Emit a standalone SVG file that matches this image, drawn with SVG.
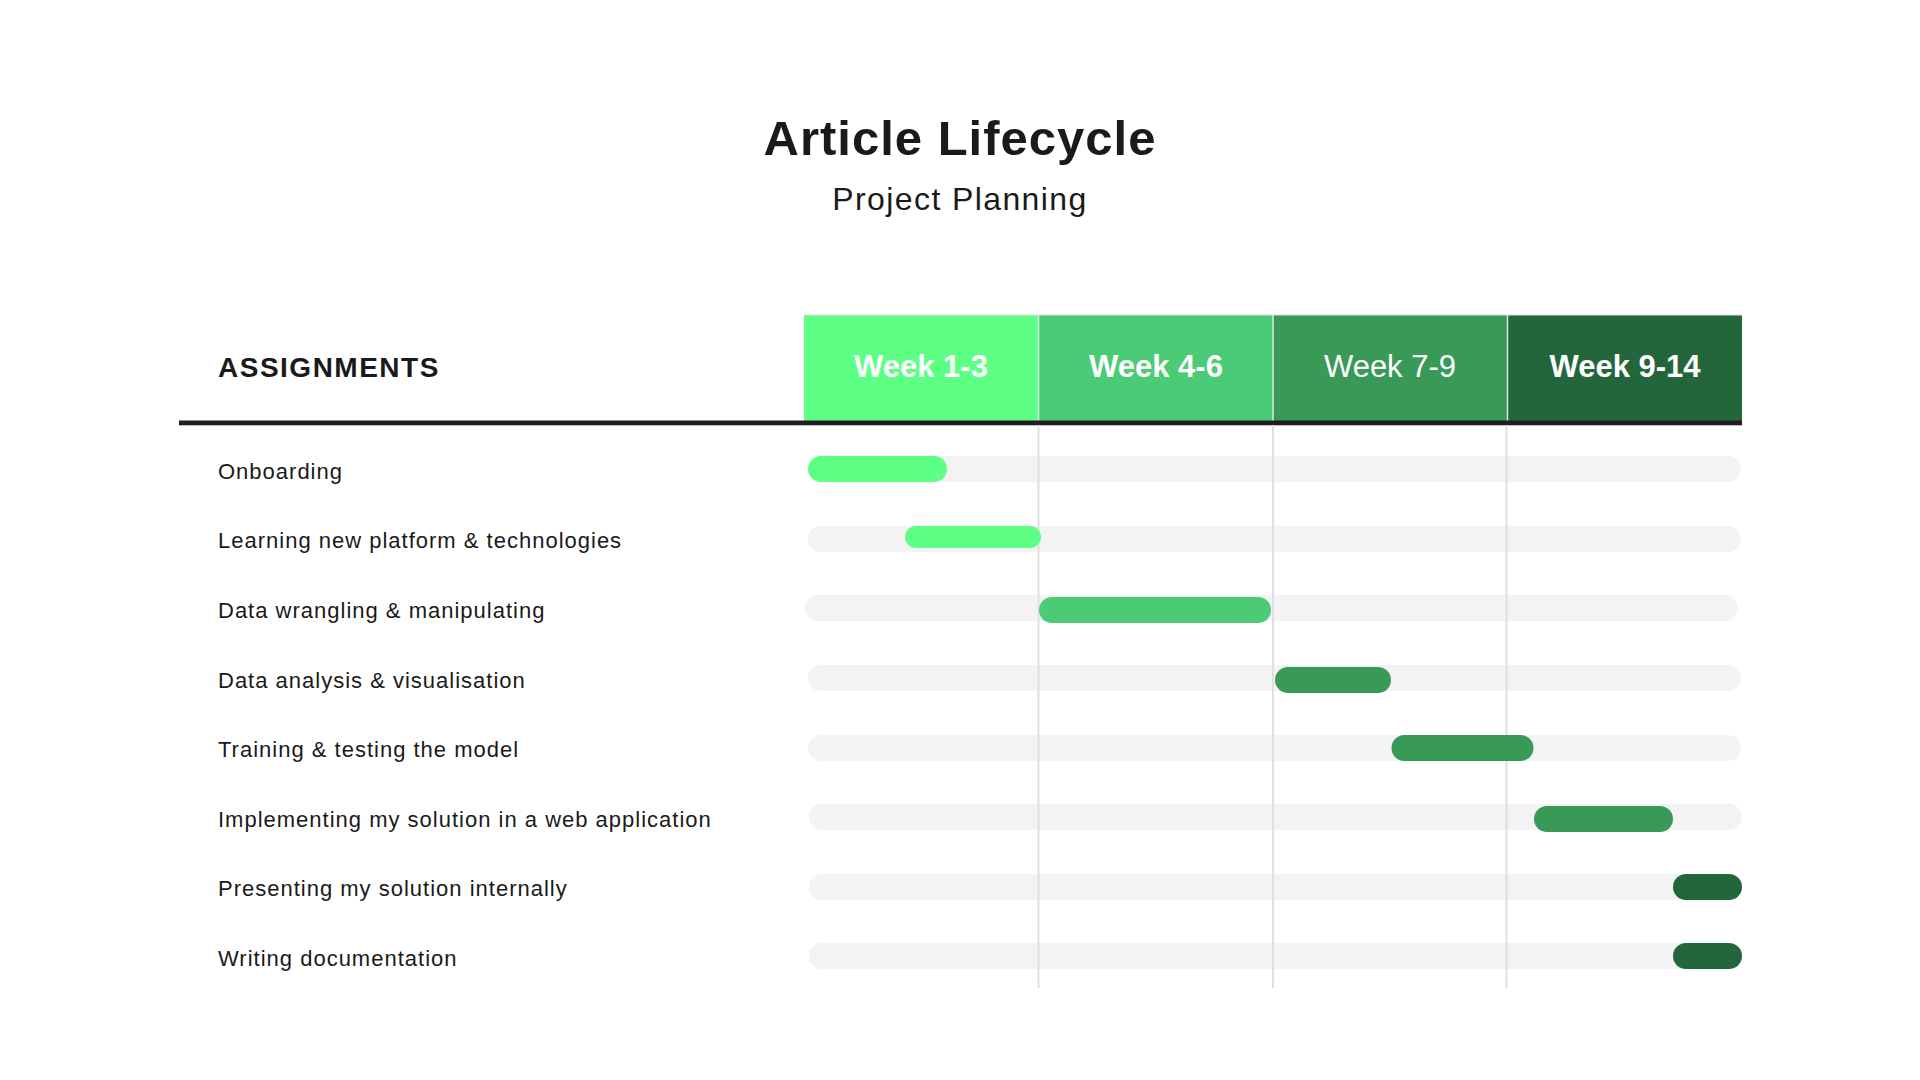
<svg xmlns="http://www.w3.org/2000/svg" width="1920" height="1080" viewBox="0 0 1920 1080">
  <style>
    .title { font-family: "Liberation Sans", Arial, sans-serif; font-weight: 700; font-size: 49px; letter-spacing: 1px; fill: #1a1a1a; }
    .subtitle { font-family: "Liberation Sans", Arial, sans-serif; font-size: 32px; letter-spacing: 1.4px; fill: #1a1a1a; }
    .colhead { font-family: "Liberation Sans", Arial, sans-serif; font-weight: 700; font-size: 28px; letter-spacing: 1.5px; fill: #1a1a1a; }
    .week { font-family: "Liberation Sans", Arial, sans-serif; font-weight: 700; font-size: 31px; fill: #ffffff; text-anchor: middle; }
    .week.light { font-weight: 400; }
    .label { font-family: "Liberation Sans", Arial, sans-serif; font-size: 22px; letter-spacing: 1px; fill: #1a1a1a; }
    .track { fill: #f3f3f3; }
    .grid line { stroke: #e0e0e0; stroke-width: 2; }
    .c1 { fill: #5eff85; }
    .c2 { fill: #4bcb75; }
    .c3 { fill: #399a57; }
    .c4 { fill: #24663b; }
  </style>

  <rect width="1920" height="1080" fill="#ffffff"/>

  <!-- Title block -->
  <g id="title">
    <text class="title" x="960" y="155" text-anchor="middle">Article Lifecycle</text>
    <text class="subtitle" x="960" y="210" text-anchor="middle">Project Planning</text>
  </g>

  <!-- Table header -->
  <g id="header">
    <text class="colhead" x="218" y="377">ASSIGNMENTS</text>
    <g id="week-1-3">
      <rect class="c1" x="804" y="315" width="234.5" height="106"/>
      <text class="week" x="921" y="377">Week 1-3</text>
    </g>
    <g id="week-4-6">
      <rect class="c2" x="1038.5" y="315" width="234.5" height="106"/>
      <text class="week" x="1156" y="377">Week 4-6</text>
    </g>
    <g id="week-7-9">
      <rect class="c3" x="1273" y="315" width="234.5" height="106"/>
      <text class="week light" x="1390" y="377">Week 7-9</text>
    </g>
    <g id="week-9-14">
      <rect class="c4" x="1507.5" y="315" width="234.5" height="106"/>
      <text class="week" x="1625" y="377">Week 9-14</text>
    </g>
    <!-- thin separators between week columns -->
    <g stroke="#d9eadf" stroke-width="1.5">
      <line x1="1038.5" y1="315" x2="1038.5" y2="421"/>
      <line x1="1273" y1="315" x2="1273" y2="421"/>
      <line x1="1507.5" y1="315" x2="1507.5" y2="421"/>
    </g>
    <line x1="804" y1="315" x2="1742" y2="315" stroke="#dddddd" stroke-width="1"/>
    <rect x="179" y="420.5" width="1563" height="4.8" fill="#1e1e1e"/>
  </g>

  <!-- Background tracks -->
  <g id="tracks">
    <rect class="track" x="808" y="456" width="933" height="26" rx="13"/>
    <rect class="track" x="808" y="526" width="933" height="26" rx="13"/>
    <rect class="track" x="805" y="595" width="933" height="26" rx="13"/>
    <rect class="track" x="808" y="665" width="933" height="26" rx="13"/>
    <rect class="track" x="808" y="735" width="933" height="26" rx="13"/>
    <rect class="track" x="809" y="804" width="933" height="26" rx="13"/>
    <rect class="track" x="809" y="874" width="933" height="26" rx="13"/>
    <rect class="track" x="809" y="943" width="933" height="26" rx="13"/>
  </g>

  <!-- Week boundary lines -->
  <g id="connectors" class="grid">
    <line x1="1038.5" y1="425" x2="1038.5" y2="988"/>
    <line x1="1273" y1="425" x2="1273" y2="988"/>
    <line x1="1506.5" y1="425" x2="1506.5" y2="988"/>
  </g>

  <!-- Assignment rows -->
  <g id="row-onboarding">
    <text class="label" x="218" y="479">Onboarding</text>
    <rect class="c1" x="808" y="456" width="139" height="26" rx="13"/>
  </g>
  <g id="row-learning">
    <text class="label" x="218" y="548">Learning new platform &amp; technologies</text>
    <rect class="c1" x="905" y="526" width="136" height="22" rx="11"/>
  </g>
  <g id="row-wrangling">
    <text class="label" x="218" y="618">Data wrangling &amp; manipulating</text>
    <rect class="c2" x="1039" y="597" width="232" height="26" rx="13"/>
  </g>
  <g id="row-analysis">
    <text class="label" x="218" y="688">Data analysis &amp; visualisation</text>
    <rect class="c3" x="1275" y="667" width="116" height="26" rx="13"/>
  </g>
  <g id="row-training">
    <text class="label" x="218" y="757">Training &amp; testing the model</text>
    <rect class="c3" x="1391.5" y="735" width="142" height="26" rx="13"/>
  </g>
  <g id="row-implementing">
    <text class="label" x="218" y="827">Implementing my solution in a web application</text>
    <rect class="c3" x="1534" y="806" width="139" height="26" rx="13"/>
  </g>
  <g id="row-presenting">
    <text class="label" x="218" y="896">Presenting my solution internally</text>
    <rect class="c4" x="1673" y="874" width="69" height="26" rx="13"/>
  </g>
  <g id="row-documentation">
    <text class="label" x="218" y="966">Writing documentation</text>
    <rect class="c4" x="1673" y="943" width="69" height="26" rx="13"/>
  </g>
</svg>
